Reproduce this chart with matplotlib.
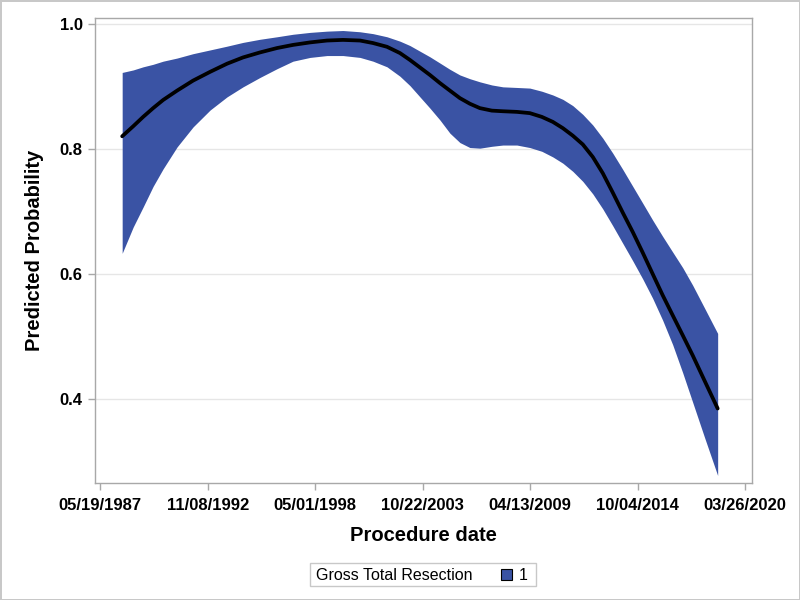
import matplotlib
matplotlib.use("Agg")
import matplotlib.pyplot as plt
import matplotlib.dates as mdates
from matplotlib.patches import Rectangle

plt.rcParams['font.family'] = ['Liberation Sans', 'DejaVu Sans']

# ---- data ----
dates = ["1988-07-01", "1989-01-22", "1989-07-26", "1990-01-28", "1990-08-02",
         "1991-04-19", "1992-02-11", "1992-12-24", "1993-11-04", "1994-08-28",
         "1995-07-10", "1996-05-22", "1997-03-15", "1998-01-26", "1998-12-08",
         "1999-10-01", "2000-08-13", "2001-04-12", "2001-12-28", "2002-08-26",
         "2003-02-28", "2003-09-02", "2004-03-06", "2004-09-09", "2005-03-13",
         "2005-09-15", "2006-03-20", "2006-09-22", "2007-05-03", "2007-11-24",
         "2008-08-10", "2009-04-09", "2009-11-18", "2010-06-11", "2010-12-14",
         "2011-06-17", "2011-12-20", "2012-06-23", "2012-12-26", "2013-06-30",
         "2014-01-02", "2014-07-07", "2015-01-09", "2015-07-13", "2016-01-15",
         "2016-07-19", "2017-01-22", "2017-07-26", "2018-03-07", "2018-11-03"]
predicted = [0.820, 0.836, 0.851, 0.865, 0.878, 0.893, 0.909, 0.923, 0.936, 0.946,
             0.954, 0.961, 0.966, 0.970, 0.973, 0.974, 0.973, 0.969, 0.963, 0.953,
             0.942, 0.930, 0.918, 0.905, 0.893, 0.881, 0.872, 0.865, 0.861, 0.860,
             0.859, 0.857, 0.851, 0.843, 0.833, 0.821, 0.807, 0.787, 0.761, 0.730,
             0.698, 0.667, 0.634, 0.600, 0.566, 0.534, 0.502, 0.470, 0.429, 0.385]
upper = [0.922, 0.926, 0.931, 0.935, 0.940, 0.945, 0.952, 0.958, 0.964, 0.970,
         0.975, 0.979, 0.983, 0.986, 0.988, 0.989, 0.987, 0.984, 0.979, 0.972,
         0.965, 0.956, 0.947, 0.937, 0.927, 0.918, 0.912, 0.907, 0.902, 0.899,
         0.898, 0.897, 0.892, 0.886, 0.879, 0.869, 0.855, 0.838, 0.817, 0.793,
         0.767, 0.740, 0.713, 0.686, 0.660, 0.635, 0.610, 0.582, 0.545, 0.505]
lower = [0.633, 0.675, 0.707, 0.740, 0.768, 0.803, 0.835, 0.862, 0.883, 0.899,
         0.914, 0.928, 0.940, 0.946, 0.949, 0.949, 0.946, 0.940, 0.931, 0.916,
         0.901, 0.883, 0.865, 0.846, 0.825, 0.810, 0.802, 0.801, 0.804, 0.806,
         0.806, 0.802, 0.796, 0.787, 0.777, 0.764, 0.748, 0.728, 0.704, 0.677,
         0.649, 0.621, 0.592, 0.561, 0.526, 0.487, 0.442, 0.395, 0.338, 0.278]

tick_dates = ["1987-05-19", "1992-11-08", "1998-05-01", "2003-10-22",
              "2009-04-13", "2014-10-04", "2020-03-26"]
y_ticks = [0.4, 0.6, 0.8, 1.0]
x_label = "Procedure date"
y_label = "Predicted Probability"
legend_title = "Gross Total Resection"
legend_entry = "1"

fill_color = "#3A53A4"

x = mdates.datestr2num(dates)
xt = mdates.datestr2num(tick_dates)

fig = plt.figure(figsize=(8, 6), dpi=100)
fig.patch.set_edgecolor('#c8c8c8')
fig.patch.set_linewidth(2)
ax = fig.add_axes([0.119, 0.195, 0.821, 0.775])

ax.fill_between(x, lower, upper, color=fill_color, linewidth=0, zorder=2)
ax.plot(x, predicted, color='black', linewidth=2.7, zorder=3,
        solid_joinstyle='round', solid_capstyle='round')

ax.set_xlim(mdates.datestr2num("1987-02-15"), mdates.datestr2num("2020-08-03"))
ax.set_ylim(0.266, 1.009)

ax.set_xticks(xt)
ax.set_xticklabels([mdates.num2date(v).strftime("%m/%d/%Y") for v in xt],
                   fontsize=12, fontweight='bold')
ax.set_yticks(y_ticks)
ax.set_yticklabels([f"{v:.1f}" for v in y_ticks], fontsize=12, fontweight='bold')

ax.yaxis.grid(True, color='#e6e6e6', linewidth=1, zorder=0)
ax.set_axisbelow(True)
for s in ax.spines.values():
    s.set_color('#a8a8a8')
    s.set_linewidth(1)
ax.tick_params(axis='both', colors='#a8a8a8', length=5, width=1, labelcolor='black')
ax.tick_params(axis='x', pad=6)
ax.tick_params(axis='y', pad=4)

ax.set_xlabel(x_label, fontsize=14.5, fontweight='bold', labelpad=9)
ax.set_ylabel(y_label, fontsize=14.5, fontweight='bold', labelpad=11)

# legend drawn SAS-style: title to the left of the entry, inside a box
W, H = 800.0, 600.0
box = Rectangle((310 / W, 1 - 586 / H), 226 / W, 23 / H, transform=fig.transFigure,
                facecolor='white', edgecolor='#c8c8c8', linewidth=1)
fig.patches.append(box)
fig.text(316 / W, 1 - 575 / H, legend_title, fontsize=11.5, va='center', ha='left')
sq = Rectangle((501 / W, 1 - 580 / H), 11 / W, 11 / H, transform=fig.transFigure,
               facecolor=fill_color, edgecolor='black', linewidth=0.8)
fig.patches.append(sq)
fig.text(519 / W, 1 - 575 / H, legend_entry, fontsize=11.5, va='center', ha='left')

fig.savefig("out.png", dpi=100)
